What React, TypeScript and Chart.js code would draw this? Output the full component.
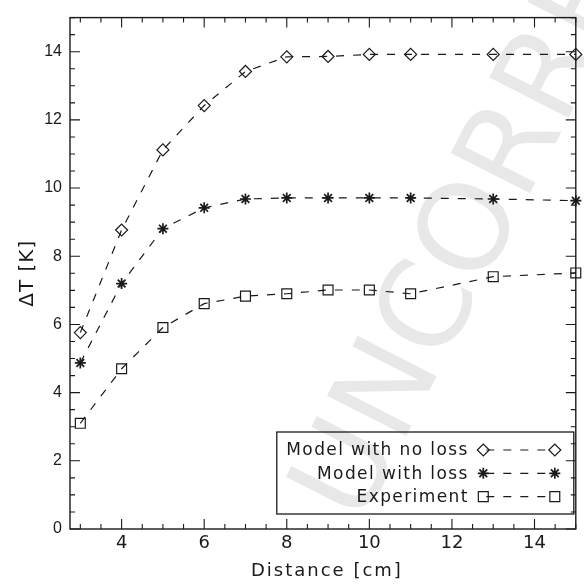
import React, { useEffect, useRef } from "react";
import { Chart, registerables } from "chart.js";

Chart.register(...registerables);

// ---- data ----
const distances = [3, 4, 5, 6, 7, 8, 9, 10, 11, 13, 15];
const modelNoLoss = [5.76, 8.77, 11.12, 12.42, 13.42, 13.85, 13.86, 13.92, 13.92, 13.92, 13.92];
const modelWithLoss = [4.87, 7.2, 8.81, 9.42, 9.68, 9.71, 9.71, 9.71, 9.71, 9.68, 9.63];
const experiment = [3.1, 4.7, 5.91, 6.61, 6.83, 6.9, 7.01, 7.01, 6.9, 7.4, 7.51];
const seriesLabels = ["Model with no loss", "Model with loss", "Experiment"];
const seriesMarkers = ["rectRot", "star", "rect"];
const xMajorTicks = [4, 6, 8, 10, 12, 14];
const yMajorTicks = [0, 2, 4, 6, 8, 10, 12, 14];
const xRange = [2.75, 15];
const yRange = [0, 15];
const minorStep = 0.5;
const xTitle = "Distance [cm]";
const yTitle = "ΔT [K]";
const watermarkText = "UNCORRECTED PROOF";

const INK = "#1a1a1a";

function drawMarker(ctx: CanvasRenderingContext2D, style: string, x: number, y: number, r: number) {
  ctx.beginPath();
  if (style === "rectRot") {
    ctx.moveTo(x - r, y);
    ctx.lineTo(x, y - r);
    ctx.lineTo(x + r, y);
    ctx.lineTo(x, y + r);
    ctx.closePath();
  } else if (style === "rect") {
    const s = r * Math.SQRT1_2;
    ctx.rect(x - s, y - s, 2 * s, 2 * s);
  } else {
    for (let k = 0; k < 4; k++) {
      const a = (k * Math.PI) / 4;
      ctx.moveTo(x + Math.cos(a) * r, y + Math.sin(a) * r);
      ctx.lineTo(x - Math.cos(a) * r, y - Math.sin(a) * r);
    }
  }
  ctx.stroke();
}

const framePlugin = {
  id: "idlFrame",
  beforeDatasetsDraw(chart: any) {
    const ctx: CanvasRenderingContext2D = chart.ctx;
    ctx.save();
    ctx.fillStyle = "rgba(0,0,0,0.09)";
    ctx.font = "122px 'DejaVu Sans'";
    ctx.textAlign = "left";
    ctx.textBaseline = "middle";
    ctx.translate(332, 512);
    ctx.rotate((-63 * Math.PI) / 180);
    ctx.fillText(watermarkText, 0, 0);
    ctx.restore();
  },
  afterDraw(chart: any) {
    const ctx: CanvasRenderingContext2D = chart.ctx;
    const ca = chart.chartArea;
    const xs = chart.scales.x;
    const ys = chart.scales.y;
    ctx.save();
    ctx.strokeStyle = INK;
    ctx.lineWidth = 1.4;
    ctx.setLineDash([]);
    ctx.strokeRect(ca.left, ca.top, ca.right - ca.left, ca.bottom - ca.top);

    ctx.lineWidth = 1.1;
    ctx.beginPath();
    // x ticks (bottom and top, inward)
    for (let v = Math.ceil(xRange[0] / minorStep) * minorStep; v <= xRange[1] + 1e-9; v += minorStep) {
      const px = xs.getPixelForValue(v);
      const len = xMajorTicks.includes(v) ? 10 : 5;
      ctx.moveTo(px, ca.bottom);
      ctx.lineTo(px, ca.bottom - len);
      ctx.moveTo(px, ca.top);
      ctx.lineTo(px, ca.top + len);
    }
    // y ticks (left and right, inward)
    for (let v = Math.ceil(yRange[0] / minorStep) * minorStep; v <= yRange[1] + 1e-9; v += minorStep) {
      const py = ys.getPixelForValue(v);
      const len = yMajorTicks.includes(v) ? 10 : 5;
      ctx.moveTo(ca.left, py);
      ctx.lineTo(ca.left + len, py);
      ctx.moveTo(ca.right, py);
      ctx.lineTo(ca.right - len, py);
    }
    ctx.stroke();

    // axis titles
    ctx.fillStyle = INK;
    (ctx as any).letterSpacing = "2px";
    ctx.font = "18px 'DejaVu Sans'";
    ctx.textAlign = "center";
    ctx.textBaseline = "alphabetic";
    ctx.fillText(xTitle, (ca.left + ca.right) / 2 + 4, 576);
    (ctx as any).letterSpacing = "1px";
    ctx.save();
    ctx.font = "20px 'DejaVu Sans'";
    ctx.translate(33, (ca.top + ca.bottom) / 2);
    ctx.rotate(-Math.PI / 2);
    ctx.fillText(yTitle, 0, 0);
    ctx.restore();

    // legend
    const box = { left: ca.right - 299, right: ca.right - 2, top: ca.bottom - 97, bottom: ca.bottom - 15 };
    ctx.lineWidth = 1.3;
    ctx.strokeRect(box.left, box.top, box.right - box.left, box.bottom - box.top);
    (ctx as any).letterSpacing = "1.4px";
    ctx.font = "17px 'DejaVu Sans'";
    ctx.textAlign = "right";
    ctx.textBaseline = "middle";
    chart.data.datasets.forEach((ds: any, i: number) => {
      const y = box.top + 18 + i * 23.3;
      ctx.fillText(ds.label, box.right - 105, y + 1);
      const m1 = box.right - 90.5;
      const m2 = box.right - 19;
      ctx.lineWidth = ds.pointBorderWidth;
      drawMarker(ctx, ds.pointStyle, m1, y, ds.pointRadius);
      drawMarker(ctx, ds.pointStyle, m2, y, ds.pointRadius);
      ctx.lineWidth = ds.borderWidth;
      ctx.setLineDash(ds.borderDash);
      ctx.beginPath();
      ctx.moveTo(m1 + 3, y);
      ctx.lineTo(m2 - 5, y);
      ctx.stroke();
      ctx.setLineDash([]);
    });
    ctx.restore();
  },
};

export default function App() {
  const ref = useRef<HTMLCanvasElement>(null);
  useEffect(() => {
    const canvas = ref.current;
    if (!canvas) return;
    const pts = (ys: number[]) => distances.map((x, i) => ({ x, y: ys[i] }));
    const series = [modelNoLoss, modelWithLoss, experiment];
    const radii = [6, 5.5, 7];
    const pbw = [1.2, 1.7, 1.2];
    const chart = new Chart(canvas, {
      type: "line",
      data: {
        datasets: series.map((s, i) => ({
          label: seriesLabels[i],
          data: pts(s),
          borderColor: INK,
          borderWidth: 1.2,
          borderDash: [8, 9],
          pointStyle: seriesMarkers[i] as any,
          pointRadius: radii[i],
          pointBorderWidth: pbw[i],
          pointBorderColor: INK,
          pointBackgroundColor: "rgba(0,0,0,0)",
          tension: 0,
          fill: false,
          clip: false as any,
        })),
      },
      options: {
        animation: false,
        responsive: true,
        maintainAspectRatio: false,
        layout: { padding: { top: 13, right: 8, left: 0, bottom: 0 } },
        plugins: { legend: { display: false }, tooltip: { enabled: false } },
        scales: {
          x: {
            type: "linear",
            min: xRange[0],
            max: xRange[1],
            grid: { display: false, drawTicks: false, tickLength: 0 },
            border: { display: false },
            afterBuildTicks: (s: any) => {
              s.ticks = xMajorTicks.map((v) => ({ value: v }));
            },
            afterFit: (s: any) => {
              s.height = 56;
            },
            ticks: {
              color: INK,
              padding: 4,
              maxRotation: 0,
              autoSkip: false,
              font: { family: "'DejaVu Sans'", size: 18 },
            },
          },
          y: {
            type: "linear",
            min: yRange[0],
            max: yRange[1],
            grid: { display: false, drawTicks: false, tickLength: 0 },
            border: { display: false },
            afterBuildTicks: (s: any) => {
              s.ticks = yMajorTicks.map((v) => ({ value: v }));
            },
            afterFit: (s: any) => {
              s.width = 70;
            },
            ticks: {
              color: INK,
              padding: 8,
              autoSkip: false,
              font: { family: "'Liberation Sans'", size: 16 },
            },
          },
        },
      },
      plugins: [framePlugin],
    });
    return () => chart.destroy();
  }, []);

  return (
    <div style={{ position: "absolute", left: 0, top: 0, width: 584, height: 585, background: "#fff" }}>
      <canvas ref={ref} />
    </div>
  );
}
